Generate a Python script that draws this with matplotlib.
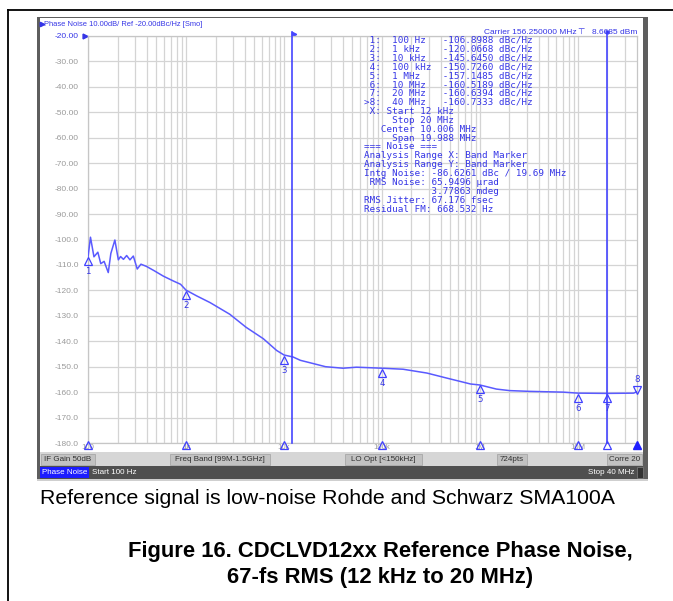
import matplotlib
matplotlib.use("Agg")
import matplotlib.pyplot as plt
from matplotlib.patches import Rectangle
from matplotlib.transforms import offset_copy, blended_transform_factory

plt.rcParams.update({"font.family": "Liberation Sans"})

W, H = 673, 601

# trace (offset Hz, dBc/Hz)
trace_freq = [100, 106, 115, 126, 135, 146, 161, 171, 188, 204, 215, 230, 248,
              268, 290, 318, 347, 396, 470, 587, 742, 880, 1000, 1290, 1760,
              2800, 4100, 6150, 8400, 10000, 12400, 14700, 20000, 26500, 40000,
              55000, 100000, 164000, 287000, 460000, 800000, 1.0e6, 1.47e6,
              2.0e6, 3.2e6, 7.0e6, 1.0e7, 2.0e7, 3.7e7, 4.0e7]
trace_dbc = [-107.0, -99.1, -106.8, -105.0, -109.5, -108.6, -113.0, -105.5,
             -100.2, -108.0, -106.7, -107.8, -106.3, -108.0, -106.5, -111.6,
             -109.7, -110.6, -112.2, -114.4, -116.3, -117.6, -119.9, -122.2,
             -124.8, -129.4, -134.5, -139.0, -143.6, -145.4, -146.2, -147.5,
             -148.8, -150.0, -150.6, -150.2, -150.6, -151.0, -152.5, -154.5,
             -156.8, -157.2, -158.8, -159.4, -159.7, -160.0, -160.4, -160.5,
             -160.4, -159.8]

marker_ids = ["1", "2", "3", "4", "5", "6", "7", "8"]
marker_freq = [1e2, 1e3, 1e4, 1e5, 1e6, 1e7, 2e7, 4e7]
marker_dbc = [-106.8988, -120.0668, -145.6450, -150.7260, -157.1485,
              -160.5189, -160.6394, -160.7333]
marker_names = ["100 Hz", "1 kHz", "10 kHz", "100 kHz", "1 MHz", "10 MHz",
                "20 MHz", "40 MHz"]

band_start, band_stop = 12e3, 20e6

ytick_vals = list(range(-20, -181, -10))
ytick_text = ["-20.00", "-30.00", "-40.00", "-50.00", "-60.00", "-70.00",
              "-80.00", "-90.00", "-100.0", "-110.0", "-120.0", "-130.0",
              "-140.0", "-150.0", "-160.0", "-170.0", "-180.0"]
xtick_vals = [1e2, 1e3, 1e4, 1e5, 1e6, 1e7]
xtick_text = ["100", "1k", "10k", "100k", "1M", "10M"]

noise_lines = [
    " X: Start 12 kHz",
    "     Stop 20 MHz",
    "   Center 10.006 MHz",
    "     Span 19.988 MHz",
    "=== Noise ===",
    "Analysis Range X: Band Marker",
    "Analysis Range Y: Band Marker",
    "Intg Noise: -86.6261 dBc / 19.69 MHz",
    " RMS Noise: 65.9496 \u00b5rad",
    "            3.77863 mdeg",
    "RMS Jitter: 67.176 fsec",
    "Residual FM: 668.532 Hz",
]

TRACE = "#5a5aff"
BLUE = "#3535e6"
GRID = "#d4d4d4"
LABEL_GRAY = "#9a9a9a"

fig = plt.figure(figsize=(W / 100, H / 100), dpi=100)


def px_axes(z):
    a = fig.add_axes([0, 0, 1, 1], zorder=z)
    a.set_xlim(0, W)
    a.set_ylim(H, 0)
    a.axis("off")
    a.patch.set_alpha(0)
    return a


bg = px_axes(0)
ov = px_axes(3)

# ---- document frame + instrument screenshot chrome ------------------------
bg.plot([8, W], [10, 10], color="black", lw=1.3)
bg.plot([8, 8], [10, H], color="black", lw=1.3)
bg.add_patch(Rectangle((37, 16.5), 611, 464.5, fc="#5e5e5e", ec="none"))
bg.add_patch(Rectangle((40, 18), 603, 434, fc="white", ec="none"))
bg.add_patch(Rectangle((40, 452), 603, 14, fc="#d6d6d6", ec="none"))
bg.add_patch(Rectangle((40, 466), 603, 13, fc="#4f4f4f", ec="none"))
bg.add_patch(Rectangle((37, 479), 611, 2, fc="#cfcfcf", ec="none"))

status_boxes = [(41, 95, "IF Gain 50dB"), (170, 270, "Freq Band [99M-1.5GHz]"),
                (345, 422, "LO Opt [<150kHz]"), (497, 527, "724pts"),
                (607, 642, "Corre 20")]
for x0, x1, txt in status_boxes:
    bg.add_patch(Rectangle((x0, 453.5), x1 - x0, 11, fc="#c2c2c2",
                           ec="#a8a8a8", lw=0.6))
    ov.text((x0 + x1) / 2, 459.3, txt, fontsize=5.8, color="#303030",
            ha="center", va="center")

bg.add_patch(Rectangle((40, 467), 49, 11, fc="#1c1cff", ec="none"))
bg.add_patch(Rectangle((637, 467), 6, 11, fc="#333333", ec="#777777", lw=0.6))
ov.text(64.5, 472.6, "Phase Noise", fontsize=5.8, color="white",
        ha="center", va="center")
ov.text(92, 472.6, "Start 100 Hz", fontsize=5.8, color="white", va="center")
ov.text(634, 472.6, "Stop 40 MHz", fontsize=5.8, color="white",
        ha="right", va="center")

# header line + carrier readout
ov.plot([41.5], [24], marker=">", ms=3.2, color=BLUE, mec=BLUE)
ov.text(44, 24, "Phase Noise 10.00dB/ Ref -20.00dBc/Hz [Smo]", fontsize=5.4,
        color=BLUE, va="center")
ov.text(577, 32.3, "Carrier 156.250000 MHz", fontsize=6, color=BLUE,
        ha="right", va="center")
ov.text(581, 31.5, "\u22a4", fontsize=6, color=BLUE, ha="center",
        va="center", family="DejaVu Sans")
ov.text(637, 32.3, "8.6685 dBm", fontsize=6, color=BLUE,
        ha="right", va="center")

# ---- the phase-noise plot --------------------------------------------------
ax = fig.add_axes([88 / W, 1 - 443 / H, (637 - 88) / W, (443 - 36) / H],
                  zorder=1)
ax.patch.set_alpha(0)
ax.set_xscale("log")
ax.set_xlim(100, 40e6)
ax.set_ylim(-180, -20)
ax.set_yticks(ytick_vals)
ax.set_yticklabels(ytick_text)
ax.set_xticks(xtick_vals)
ax.set_xticklabels(xtick_text)
ax.set_xticks([m * 10 ** d for d in range(2, 8) for m in range(2, 10)
               if m * 10 ** d < 40e6], minor=True)
ax.tick_params(axis="both", which="both", length=0)
ax.tick_params(axis="y", pad=6.5, labelsize=6, labelcolor=LABEL_GRAY)
ax.tick_params(axis="x", pad=0.5, labelsize=5.6, labelcolor=LABEL_GRAY)
ax.get_yticklabels()[0].set_color(BLUE)
ax.grid(which="both", color=GRID, lw=0.9)
for s in ax.spines.values():
    s.set_color("#c6c6c6")
    s.set_linewidth(0.9)

# ref level arrow next to -20.00
ref_tr = offset_copy(blended_transform_factory(ax.transAxes, ax.transData),
                     fig=fig, x=-3, y=0, units="dots")
ax.plot([0], [-20], marker=">", ms=3.5, color=BLUE, transform=ref_tr,
        clip_on=False)

ax.plot(trace_freq, trace_dbc, color=TRACE, lw=1.1, zorder=3)

# band markers (integration range)
ax.plot([band_start, band_start], [-180, -18.6], color="#4646ff", lw=1.2,
        clip_on=False, zorder=3)
flag_tr = offset_copy(ax.transData, fig=fig, x=2.5, y=-1.5, units="dots")
ax.plot([band_start], [-18.6], marker=">", ms=3.2, color="#4646ff",
        transform=flag_tr, clip_on=False)
ax.plot([band_stop, band_stop], [-180, -18.6], color="#4646ff", lw=1.2,
        clip_on=False, zorder=3)
ax.plot([band_stop], [-18.6], marker="o", ms=2.2, color="#4646ff",
        clip_on=False)

# trace markers
up_tr = offset_copy(ax.transData, fig=fig, x=0, y=-4.2, units="dots")
dn_tr = offset_copy(ax.transData, fig=fig, x=0, y=4.2, units="dots")
ax.plot(marker_freq[:-1], marker_dbc[:-1], ls="none", marker="^", ms=6,
        mfc="none", mec="#4040ff", mew=0.9, transform=up_tr, clip_on=False,
        zorder=4)
ax.plot(marker_freq[-1:], marker_dbc[-1:], ls="none", marker="v", ms=6,
        mfc="none", mec="#4040ff", mew=0.9, transform=dn_tr, clip_on=False,
        zorder=4)
for mid, f, v in zip(marker_ids[:-1], marker_freq[:-1], marker_dbc[:-1]):
    ax.annotate(mid, (f, v), xytext=(0, -10.5), textcoords="offset points",
                ha="center", va="center", fontsize=6.2, color=BLUE,
                family="DejaVu Sans", annotation_clip=False)
ax.annotate(marker_ids[-1], (marker_freq[-1], marker_dbc[-1]),
            xytext=(0, 10.5), textcoords="offset points", ha="center",
            va="center", fontsize=6.2, color=BLUE, family="DejaVu Sans",
            annotation_clip=False)

# marker positions on the frequency axis
ax_tr = offset_copy(ax.transData, fig=fig, x=0, y=-1.5, units="dots")
ax.plot(marker_freq[:-1], [-180] * 7, ls="none", marker="^", ms=5.5,
        mfc="none", mec="#4040ff", mew=0.9, transform=ax_tr, clip_on=False,
        zorder=4)
ax.plot(marker_freq[-1:], [-180], ls="none", marker="^", ms=5.5,
        color="#2020ff", transform=ax_tr, clip_on=False, zorder=4)

# marker table + noise analysis readout
readout = []
for mid, name, v in zip(marker_ids, marker_names, marker_dbc):
    lead = ">" if mid == marker_ids[-1] else " "
    readout.append(f"{lead}{mid}:  {name:<9}{v:.4f} dBc/Hz")
readout += noise_lines
for i, line in enumerate(readout):
    ov.text(364, 40 + i * 8.91, line, fontsize=6.7, color=BLUE,
            family="DejaVu Sans Mono", va="center")

# ---- document caption -------------------------------------------------------
ov.text(40, 498, "Reference signal is low-noise Rohde and Schwarz SMA100A",
        fontsize=15.3, color="black", va="center")
ov.text(380, 551, "Figure 16. CDCLVD12xx Reference Phase Noise,",
        fontsize=15.8, fontweight="bold", ha="center", va="center")
ov.text(380, 577, "67-fs RMS (12 kHz to 20 MHz)",
        fontsize=15.8, fontweight="bold", ha="center", va="center")

fig.savefig("out.png", dpi=100)
